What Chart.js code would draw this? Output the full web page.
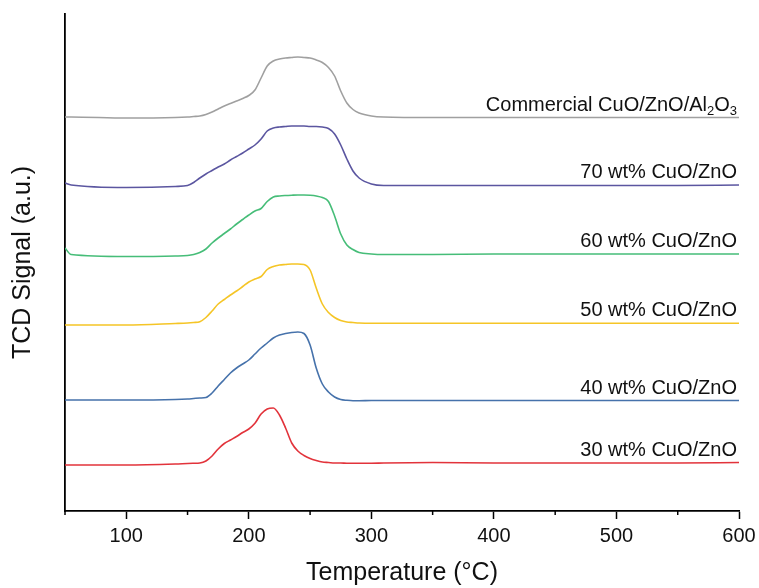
<!doctype html>
<html lang="en">

<head>
    <title>TPR profiles</title>
    <meta charset="utf-8" />
    <script src="https://cdn.jsdelivr.net/npm/chart.js@4.4.1/dist/chart.umd.min.js"></script>
    <style>
        body {
            margin: 0;
            background: #fff;
        }
        #tprChart {
            display: block;
        }
    </style>
</head>

<body>
    <canvas id="tprChart" width="759" height="588"></canvas>

    <script>
        // temperature grid (°C) shared by all profiles
        const temps = [50, 55, 100, 140, 150, 155, 160, 165, 170, 175, 180, 185, 190, 195, 200, 205, 210, 215, 220, 225,
            230, 235, 240, 245, 250, 255, 260, 265, 270, 275, 280, 285, 290, 300, 310, 350, 400, 450, 500, 550, 600];

        // TCD signal (a.u., stacked)
        const commercial = [408, 408, 407, 407.5, 408, 408.5, 409, 410.5, 413, 416, 419, 421.5, 424, 426.5, 429.5, 435, 447, 459, 464, 466,
            467, 467.5, 468, 467.5, 467, 465, 462.5, 457.5, 449, 434, 422, 415.5, 412, 409, 408, 407.5, 407.5, 407.5, 407.5, 407.5, 407.5];
        const wt70 = [342, 340, 337.5, 338.5, 339.5, 342.5, 347, 351, 354.5, 358, 361, 365, 368.5, 372, 376, 380, 386, 394, 397, 398,
            398.5, 399, 399, 399, 398.5, 398.5, 398, 396.5, 391, 380, 366, 354, 347, 341, 339.5, 339.5, 339.5, 339.5, 339.5, 339.5, 340];
        const wt60 = [277, 270.5, 268.5, 269, 269.5, 270.5, 272.5, 276, 282, 287, 291.5, 296, 301, 305.5, 310, 314, 316.5, 323.5, 328, 329,
            329.5, 329.8, 330, 330, 329.7, 329, 327.5, 323.5, 309, 291, 280, 275.5, 272.5, 271, 270.5, 270.5, 271, 271, 271, 271, 271];
        const wt50 = [200, 200, 200, 201.5, 202, 202.5, 203.3, 207.5, 214, 221, 225.5, 230, 234, 238.5, 243, 246, 248.5, 255.5, 258.5, 260,
            260.5, 261, 261, 260.5, 255, 237, 221, 212.5, 207.5, 204.5, 203, 202.5, 202, 201.7, 201.7, 201.7, 201.7, 201.7, 201.7, 201.7, 201.7];
        const wt40 = [125, 125, 125, 125.5, 126, 126.5, 127, 127.5, 132, 139, 145.5, 152, 157, 161, 165, 171, 177, 182, 187, 190,
            191.5, 192.5, 193, 191.5, 180, 157, 141, 133, 128, 125.5, 124.7, 124.3, 124.3, 124.5, 124.5, 124.5, 124.5, 124.5, 124.5, 124.5, 124.5];
        const wt30 = [60, 60, 60, 61, 61.5, 61.7, 62, 64, 69, 76, 81.5, 85, 88.5, 92.5, 96, 101.7, 111, 116, 117, 110,
            97, 82, 74, 69.5, 66.5, 64.5, 63, 62.5, 62, 62, 61.7, 61.7, 61.7, 61.7, 62, 62.5, 62, 62, 62, 62, 62.5];

        // "_x" = subscript x
        const seriesNames = ['Commercial CuO/ZnO/Al_2O_3', '70 wt% CuO/ZnO', '60 wt% CuO/ZnO',
            '50 wt% CuO/ZnO', '40 wt% CuO/ZnO', '30 wt% CuO/ZnO'];
        const seriesValues = [commercial, wt70, wt60, wt50, wt40, wt30];
        const seriesColors = ['#a0a0a0', '#5b56a0', '#46bd78', '#f5c526', '#4672ab', '#e2333b'];

        const xTicks = [100, 200, 300, 400, 500, 600];
        const xMinorTicks = [50, 150, 250, 350, 450, 550];

        const FONT = "'Liberation Sans', Arial, sans-serif";

        // draws the curve names at the right end, with subscripts
        const curveLabels = {
            id: 'curveLabels',
            afterDatasetsDraw(chart) {
                const { ctx, chartArea, scales } = chart;
                ctx.save();
                ctx.fillStyle = '#111';
                ctx.textBaseline = 'alphabetic';
                ctx.textAlign = 'left';
                chart.data.datasets.forEach((ds, i) => {
                    const last = ds.data[ds.data.length - 1];
                    const baseY = scales.y.getPixelForValue(last.y) - 7;
                    const parts = [];
                    const txt = seriesNames[i];
                    for (let k = 0; k < txt.length; k++) {
                        if (txt[k] === '_') {
                            parts.push({ t: txt[k + 1], sub: true });
                            k++;
                        } else if (parts.length && !parts[parts.length - 1].sub) {
                            parts[parts.length - 1].t += txt[k];
                        } else {
                            parts.push({ t: txt[k], sub: false });
                        }
                    }
                    let total = 0;
                    parts.forEach(p => {
                        ctx.font = (p.sub ? '13px ' : '20px ') + FONT;
                        p.w = ctx.measureText(p.t).width;
                        total += p.w;
                    });
                    let x = chartArea.right - 2 - total;
                    parts.forEach(p => {
                        ctx.font = (p.sub ? '13px ' : '20px ') + FONT;
                        ctx.fillText(p.t, x, p.sub ? baseY + 4 : baseY);
                        x += p.w;
                    });
                });
                ctx.restore();
            }
        };

        // short minor tick marks on the temperature axis
        const minorTicks = {
            id: 'minorTicks',
            afterDraw(chart) {
                const { ctx, scales } = chart;
                const x = scales.x;
                ctx.save();
                ctx.strokeStyle = '#000';
                ctx.lineWidth = 1.5;
                xMinorTicks.forEach(v => {
                    const px = x.getPixelForValue(v);
                    ctx.beginPath();
                    ctx.moveTo(px, x.top);
                    ctx.lineTo(px, x.top + 4);
                    ctx.stroke();
                });
                ctx.restore();
            }
        };

        const ctx = document.getElementById('tprChart').getContext('2d');
        const tprChart = new Chart(ctx, {
            type: 'line',
            data: {
                datasets: seriesValues.map((vals, i) => ({
                    label: seriesNames[i],
                    data: temps.map((t, j) => ({ x: t, y: vals[j] })),
                    borderColor: seriesColors[i],
                    borderWidth: 1.6,
                    pointRadius: 0,
                    fill: false,
                    cubicInterpolationMode: 'monotone'
                }))
            },
            options: {
                responsive: false,
                animation: false,
                layout: { padding: { top: 14, right: 20, bottom: 0, left: 0 } },
                plugins: {
                    legend: { display: false },
                    tooltip: { enabled: false }
                },
                scales: {
                    x: {
                        type: 'linear',
                        min: 50,
                        max: 600,
                        afterBuildTicks: (axis) => {
                            axis.ticks = xTicks.map(v => ({ value: v }));
                        },
                        ticks: {
                            color: '#111',
                            padding: 7,
                            maxRotation: 0,
                            autoSkip: false,
                            font: { family: FONT, size: 20, lineHeight: 1 }
                        },
                        grid: {
                            drawOnChartArea: false,
                            drawTicks: true,
                            tickLength: 8,
                            tickWidth: 1.5,
                            tickColor: '#000'
                        },
                        border: { color: '#000', width: 1.8 },
                        title: {
                            display: true,
                            text: 'Temperature (°C)',
                            color: '#111',
                            font: { family: FONT, size: 25, lineHeight: 1 },
                            padding: { top: 0, bottom: 2 }
                        },
                        afterFit: (axis) => {
                            axis.height = 77;
                            axis.paddingLeft = 0;
                            axis.paddingRight = 0;
                        }
                    },
                    y: {
                        min: 14,
                        max: 511,
                        ticks: { display: false },
                        grid: { display: false },
                        border: { color: '#000', width: 1.8 },
                        title: {
                            display: true,
                            text: 'TCD Signal (a.u.)',
                            color: '#111',
                            font: { family: FONT, size: 25, lineHeight: 1 },
                            padding: { top: 11, bottom: 0 }
                        },
                        afterFit: (axis) => {
                            axis.width = 65;
                            axis.paddingTop = 0;
                            axis.paddingBottom = 0;
                        }
                    }
                }
            },
            plugins: [curveLabels, minorTicks]
        });
    </script>
</body>

</html>
